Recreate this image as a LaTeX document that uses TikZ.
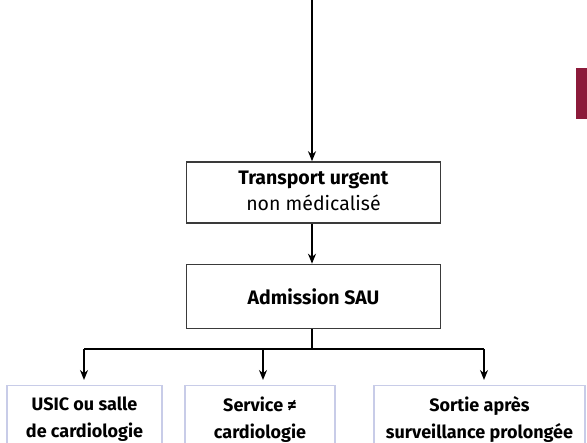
\documentclass[tikz,border=0pt]{standalone}
\usepackage{fontspec}
\setmainfont{Fira Sans}
\usetikzlibrary{arrows.meta}
\definecolor{framegrey}{HTML}{3A3A3A}
\definecolor{framelilac}{HTML}{C8CCE8}
\definecolor{tabred}{HTML}{8C1A3A}
\newcommand{\textline}[1]{\vphantom{lg}#1}
\begin{document}
\begin{tikzpicture}[x=1pt,y=-1pt,
  flow/.style={line width=1.6pt,-{Stealth[length=10pt,width=8pt]}},
  link/.style={line width=1.6pt},
  mainbox/.style={draw=framegrey,line width=1.6pt,minimum width=254pt,align=center,
    inner ysep=0pt,font=\fontsize{19.5}{26}\selectfont},
  outbox/.style={draw=framelilac,line width=1.3pt,anchor=north,minimum height=68pt,align=center,
    inner ysep=0pt,font=\fontsize{18}{27}\selectfont\bfseries}]
\useasboundingbox (0,0) rectangle (587,443);

% side tab
\fill[tabred] (576,68) rectangle (587,119);

% main chain
\coordinate (top) at (312,0);
\node[mainbox,minimum height=61pt] (t) at (313.5,192.5)
  {\textline{\textbf{Transport urgent}}\\\textline{non médicalisé}};
\node[mainbox,minimum height=64pt] (a) at (313.5,296.5) {\textbf{Admission SAU}};

\draw[flow] (top) -- (top |- t.north);
\draw[flow] (t.south -| top) -- (a.north -| top);

% outcomes
\node[outbox,minimum width=155pt] (b1) at (84.5,385) {\textline{USIC ou salle}\\\textline{de cardiologie}};
\node[outbox,minimum width=150pt] (b2) at (260,385) {\textline{Service ≠}\\\textline{cardiologie}};
\node[outbox,minimum width=211pt] (b3) at (479.5,385) {\textline{Sortie après}\\\textline{surveillance prolongée}};

\coordinate (split) at (312,349);
\coordinate (j1) at (84,349);
\coordinate (j2) at (263,349);
\coordinate (j3) at (484,349);
\draw[link] (a.south -| top) -- (split);
\draw[link] (j1) -- (j3);
\draw[flow,shorten >=5pt] (j1) -- (j1 |- b1.north);
\draw[flow,shorten >=5pt] (j2) -- (j2 |- b2.north);
\draw[flow,shorten >=5pt] (j3) -- (j3 |- b3.north);
\end{tikzpicture}
\end{document}
